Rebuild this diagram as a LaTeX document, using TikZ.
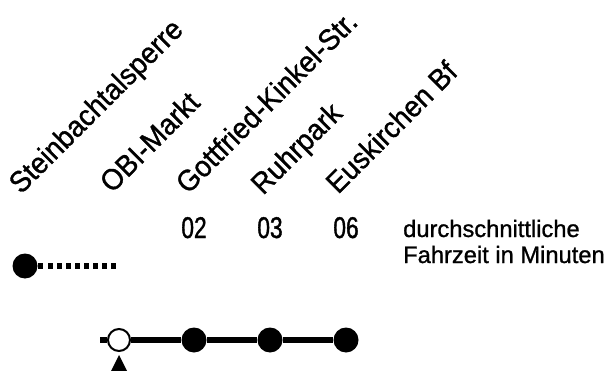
\documentclass[tikz,border=0pt]{standalone}
\usepackage{fontspec}
\setmainfont[FakeBold=1.0]{Liberation Sans}
\newfontfamily\labelfont[FakeStretch=0.94,FakeBold=1.1]{Liberation Sans}
\newfontfamily\digitfont[FakeStretch=0.76,FakeBold=1.2]{Liberation Sans}
\begin{document}
\begin{tikzpicture}[x=1pt,y=-1pt,
  stop/.style={circle,fill=black,minimum size=25pt,inner sep=0pt},
  openstop/.style={circle,draw=black,fill=white,line width=2pt,minimum size=22pt,inner sep=0pt},
  track/.style={line width=5.6pt,line cap=butt},
  dottrack/.style={track,dash pattern=on 4.5pt off 4.5pt},
  stationlabel/.style={rotate=45,anchor=base west,inner sep=0pt,font=\labelfont\fontsize{29.5}{32}\selectfont},
  minutes/.style={anchor=base,inner sep=0pt,font=\digitfont\fontsize{30}{32}\selectfont},
  legend/.style={anchor=base west,inner sep=0pt,font=\fontsize{23.7}{26}\selectfont}]
\useasboundingbox (0,0) rectangle (609,371);

% station labels
\node[stationlabel] (l0) at (21,195) {Steinbachtalsperre};
\node[stationlabel] (l1) at (112,194) {OBI-Markt};
\node[stationlabel] (l2) at (188,195) {Gottfried-Kinkel-Str.};
\node[stationlabel] (l3) at (263,196) {Ruhrpark};
\node[stationlabel] (l4) at (338,195) {Euskirchen Bf};

% minutes
\node[minutes] (m2) at (194,238) {02};
\node[minutes] (m3) at (270,238) {03};
\node[minutes] (m4) at (346,238) {06};
\node[legend] (t1) at (403,237) {durchschnittliche};
\node[legend] (t2) at (403,263) {Fahrzeit in Minuten};

% upper line
\node[stop] (s0) at (25,266) {};
\coordinate (st0) at (43,266);
\coordinate (d0) at (48,266);
\coordinate (d1) at (117,266);
\draw[track] (s0.east) -- (st0);
\draw[dottrack] (d0) -- (d1);

% lower line
\coordinate (st1) at (100,340);
\node[openstop] (s1) at (119,340) {};
\node[stop] (s2) at (194,340) {};
\node[stop] (s3) at (270,340) {};
\node[stop] (s4) at (346,340) {};
\draw[track] (st1) -- (s1);
\draw[track] (s1) -- (s2);
\draw[track] (s2) -- (s3);
\draw[track] (s3) -- (s4);

% position marker
\coordinate (tp) at (119,355);
\fill[black] (tp) -- ++(9.5,19) -- ++(-19,0) -- cycle;
\end{tikzpicture}
\end{document}
